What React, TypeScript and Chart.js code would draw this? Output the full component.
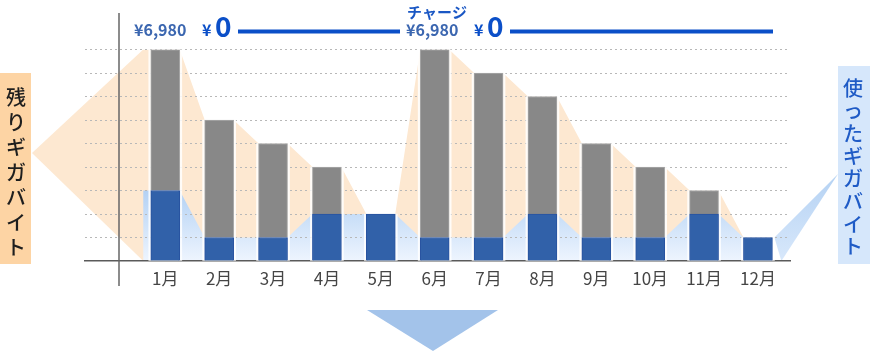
import React, { useEffect, useRef } from 'react';
import { Chart, registerables } from 'chart.js';

Chart.register(...registerables);

const months = ['1月', '2月', '3月', '4月', '5月', '6月', '7月', '8月', '9月', '10月', '11月', '12月'];
const usedGB = [3, 1, 1, 2, 2, 1, 1, 2, 1, 1, 2, 1];
const remainingGB = [6, 5, 4, 2, 0, 8, 7, 5, 4, 3, 1, 0];
const yTicks = [0, 1, 2, 3, 4, 5, 6, 7, 8, 9];
const chargeLabel = 'チャージ';
const priceBefore = '¥6,980';
const yenSign = '¥';
const priceAfter = '0';
const leftLabel = '残りギガバイト';
const rightLabel = '使ったギガバイト';

const FONT = "'Noto Sans CJK JP', 'Noto Sans', sans-serif";
const PEACH = '#fde8d1';
const HW = 0.268; // half bar width in index units
const EXT = 0.15; // flat extension left of first bar

function edgePoints(values: number[]) {
  const pts: { x: number; y: number }[] = [];
  values.forEach((v, i) => {
    if (i === 0) pts.push({ x: i - HW - EXT, y: v });
    pts.push({ x: i - HW, y: v }, { x: i + HW, y: v });
  });
  return pts;
}

export default function App() {
  const ref = useRef<HTMLCanvasElement>(null);

  useEffect(() => {
    if (!ref.current) return;
    const totals = usedGB.map((u, i) => u + remainingGB[i]);
    const last = months.length - 1;

    const deco = {
      id: 'deco',
      beforeDraw(chart: any) {
        const { ctx } = chart;
        const x = chart.scales.x;
        const y = chart.scales.y;
        ctx.save();
        // left peach connector
        const x0 = x.getPixelForValue(-HW - EXT);
        ctx.fillStyle = PEACH;
        ctx.beginPath();
        ctx.moveTo(32, 153);
        ctx.lineTo(x0 + 0.5, y.getPixelForValue(totals[0]));
        ctx.lineTo(x0 + 0.5, y.getPixelForValue(0));
        ctx.closePath();
        ctx.fill();
        // right blue connector
        const xr = x.getPixelForValue(last + HW);
        const g = ctx.createLinearGradient(0, 175, 0, 261);
        g.addColorStop(0, '#b5d2f3');
        g.addColorStop(1, '#d8e8fb');
        ctx.fillStyle = g;
        ctx.beginPath();
        ctx.moveTo(xr + 2, y.getPixelForValue(usedGB[last]));
        ctx.lineTo(838, 174);
        ctx.lineTo(xr + 9, y.getPixelForValue(0));
        ctx.closePath();
        ctx.fill();
        ctx.restore();
      },
      afterDraw(chart: any) {
        const { ctx } = chart;
        ctx.save();
        // vertical axis line
        ctx.strokeStyle = '#666';
        ctx.lineWidth = 1.5;
        ctx.beginPath();
        ctx.moveTo(119, 13);
        ctx.lineTo(119, 286);
        ctx.stroke();

        // left label box
        ctx.fillStyle = '#fdd4a4';
        ctx.fillRect(0, 73, 31, 191);
        ctx.fillStyle = '#1e1e1e';
        ctx.font = `500 20px ${FONT}`;
        ctx.textAlign = 'center';
        ctx.textBaseline = 'middle';
        [...leftLabel].forEach((ch, k) => ctx.fillText(ch, 16, 97 + k * 25));

        // right label box
        ctx.fillStyle = '#d6e7fb';
        ctx.fillRect(838, 66, 32, 198);
        ctx.fillStyle = '#1f5bc6';
        [...rightLabel].forEach((ch, k) => ctx.fillText(ch, 853, 88 + k * 22.7));

        // top annotations
        ctx.textAlign = 'left';
        ctx.textBaseline = 'alphabetic';
        ctx.font = `bold 16px ${FONT}`;
        ctx.fillStyle = '#3c67b0';
        ctx.fillText(priceBefore, 134, 36);
        ctx.fillText(priceBefore, 406, 36);
        ctx.fillStyle = '#0b4fc8';
        ctx.fillText(yenSign, 202, 36);
        ctx.fillText(yenSign, 474, 36);
        ctx.font = `bold 28px ${FONT}`;
        ctx.fillText(priceAfter, 215, 37);
        ctx.fillText(priceAfter, 487, 37);
        ctx.font = `bold 15px ${FONT}`;
        ctx.fillStyle = '#1a57c4';
        ctx.fillText(chargeLabel, 407, 18);
        ctx.fillStyle = '#0b4fc8';
        ctx.fillRect(238, 29.5, 162, 4);
        ctx.fillRect(510, 29.5, 263, 4);

        // bottom arrow
        ctx.fillStyle = '#a3c3ea';
        ctx.beginPath();
        ctx.moveTo(367, 310);
        ctx.lineTo(498, 310);
        ctx.lineTo(433, 351);
        ctx.closePath();
        ctx.fill();
        ctx.restore();
      },
    };

    const chart = new Chart(ref.current, {
      type: 'bar',
      data: {
        datasets: [
          {
            type: 'bar',
            label: '使ったギガバイト',
            data: months.map((_, i) => ({ x: i, y: usedGB[i] })),
            backgroundColor: '#3161a9',
            borderColor: '#2853a0',
            borderWidth: 1,
            barThickness: 29,
            grouped: false,
            stack: 'gb',
            order: 1,
          } as any,
          {
            type: 'bar',
            label: '残りギガバイト',
            data: months.map((_, i) => ({ x: i, y: remainingGB[i] === 0 ? null : remainingGB[i] })),
            backgroundColor: '#888888',
            borderColor: '#a8a8a8',
            borderWidth: 1,
            barThickness: 29,
            grouped: false,
            stack: 'gb',
            order: 1,
          } as any,
          {
            type: 'bar',
            label: 'halo',
            data: months.map((_, i) => ({ x: i, y: totals[i] })),
            backgroundColor: 'rgba(255,255,255,0.85)',
            borderWidth: 0,
            barThickness: 33,
            grouped: false,
            stack: 'halo',
            order: 2,
          } as any,
          {
            type: 'line',
            label: 'usedArea',
            data: edgePoints(usedGB),
            borderColor: 'rgba(0,0,0,0)',
            borderWidth: 0,
            pointRadius: 0,
            tension: 0,
            fill: 'origin',
            stack: 'usedArea',
            order: 3,
            backgroundColor: (c: any) => {
              const { chart: ch } = c;
              const area = ch.chartArea;
              if (!area) return '#cfe2f8';
              const ys = ch.scales.y;
              const g = ch.ctx.createLinearGradient(0, ys.getPixelForValue(3), 0, ys.getPixelForValue(0));
              g.addColorStop(0, '#b3d1f4');
              g.addColorStop(1, '#eef5fe');
              return g;
            },
          } as any,
          {
            type: 'line',
            label: 'totalArea',
            data: edgePoints(totals),
            borderColor: 'rgba(0,0,0,0)',
            borderWidth: 0,
            pointRadius: 0,
            tension: 0,
            fill: 'origin',
            stack: 'totalArea',
            order: 4,
            backgroundColor: PEACH,
          } as any,
        ],
      },
      options: {
        animation: false,
        responsive: false,
        devicePixelRatio: 1,
        layout: { padding: { left: 85, right: 80, top: 49.5, bottom: 60 } },
        plugins: {
          legend: { display: false },
          tooltip: { enabled: false },
          filler: { drawTime: 'beforeDraw' },
        } as any,
        scales: {
          x: {
            type: 'linear',
            min: -1.49,
            max: 11.595,
            offset: false,
            grid: { display: false, drawTicks: false, offset: false },
            border: { display: true, color: '#5a5a5a', width: 1.5 },
            afterBuildTicks: (s: any) => {
              s.ticks = months.map((_, i) => ({ value: i }));
            },
            afterFit: (s: any) => {
              s.height = 30;
            },
            ticks: {
              autoSkip: false,
              maxRotation: 0,
              padding: 7,
              color: '#454545',
              font: { family: FONT, size: 17 },
              callback: (_v: any, i: number) => months[i],
            },
          },
          y: {
            type: 'linear',
            stacked: true,
            min: 0,
            max: 9,
            afterBuildTicks: (s: any) => {
              s.ticks = yTicks.map((v) => ({ value: v }));
            },
            afterFit: (s: any) => {
              s.width = 0;
            },
            ticks: { display: false },
            border: { display: false, dash: [2, 3] },
            grid: {
              drawTicks: false,
              lineWidth: 1,
              color: (c: any) => (c.tick && c.tick.value === 0 ? 'rgba(0,0,0,0)' : '#b8b8b8'),
            },
          },
        } as any,
      },
      plugins: [deco],
    });
    return () => chart.destroy();
  }, []);

  return (
    <div style={{ position: 'absolute', left: 0, top: 0, width: 870, height: 351, background: '#fff' }}>
      <canvas ref={ref} width={870} height={351} style={{ display: 'block' }} />
    </div>
  );
}
